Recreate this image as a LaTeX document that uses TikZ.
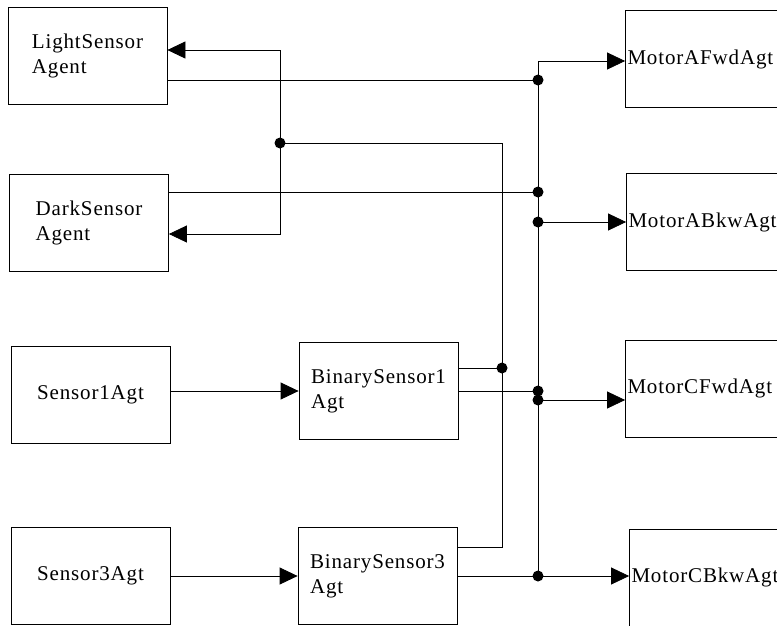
\documentclass[tikz,border=0pt]{standalone}
\usepackage{fontspec}
\setmainfont{Liberation Serif}
\newfontfamily\agtfont[LetterSpace=4]{Liberation Serif}
\usepackage{tikz}
\usepackage{circuitikz}
\usetikzlibrary{arrows.meta}

\tikzset{
  agent/.style={draw, rectangle, line width=0.8pt, minimum width=159pt, minimum height=97pt,
    align=left, inner sep=0pt, font=\agtfont\fontsize{21}{25}\selectfont},
  motor/.style={agent, text width=155pt, inner xsep=2pt},
  wire/.style={line width=0.8pt},
  arr/.style={wire, -{Triangle[length=18pt,width=17pt]}},
}

\begin{document}
\begin{tikzpicture}[x=1pt, y=-1pt]

\clip (0,0) rectangle (777,625);

\node[agent] (light) at (87.5,56) {LightSensor\\Agent};
\node[agent] (dark) at (89,223) {DarkSensor\\Agent};
\node[agent] (sone) at (90.5,394.5) {Sensor1Agt};
\node[agent] (sthree) at (90.5,576) {Sensor3Agt};
\node[agent] (bone) at (378.5,391) {BinarySensor1\\Agt};
\node[agent] (bthree) at (377.5,576) {BinarySensor3\\Agt};
\node[motor] (mafwd) at (705,59) {MotorAFwdAgt};
\node[motor] (mabkw) at (706,222) {MotorABkwAgt};
\node[motor] (mcfwd) at (705,388.5) {MotorCFwdAgt};
\node[motor] (mcbkw) at (709,577.5) {MotorCBkwAgt};

\coordinate (jl) at (280,143);
\coordinate (jb) at (502,368);
\coordinate (ja1) at (538,80);
\coordinate (ja2) at (538,192);
\coordinate (ja3) at (538,222);
\coordinate (jc1) at (538,391);
\coordinate (jc2) at (538,400);
\coordinate (jc3) at (538,576);

\coordinate (lt) at (280,50);
\coordinate (lb) at (280,234);
\coordinate (bt) at (502,143);
\coordinate (bb) at (502,547);
\coordinate (top) at (538,61);

% feedback to the light and dark sensors
\draw[arr] (jl) -- (lt) -- (lt -| light.east);
\draw[arr] (jl) -- (lb) -- (lb -| dark.east);

\draw[wire] (jl)
to[short] (bt)
to[short] (bb)
to[short] (bb -| bthree.east);
\draw[wire] (jb -| bone.east) to[short] (jb);

% sensors to binary sensors
\draw[arr] (bone.west -| sone.east) -- (bone.west);
\draw[arr] (sthree.east) -- (bthree.west);

% bus to the motors
\draw[wire] (ja1 -| light.east) to[short] (ja1);
\draw[wire] (ja2 -| dark.east) to[short] (ja2);
\draw[wire] (bone.east) to[short] (jc1);
\draw[wire] (bthree.east) to[short] (jc3);
\draw[wire] (jc3) to[short] (top);

\draw[arr] (top) -- (top -| mafwd.west);
\draw[arr] (ja3) -- (ja3 -| mabkw.west);
\draw[arr] (jc2) -- (jc2 -| mcfwd.west);
\draw[arr] (jc3) -- (jc3 -| mcbkw.west);

\foreach \j in {jl,jb,ja1,ja2,ja3,jc1,jc2,jc3}
  \fill (\j) circle (5.5pt);

\end{tikzpicture}
\end{document}
